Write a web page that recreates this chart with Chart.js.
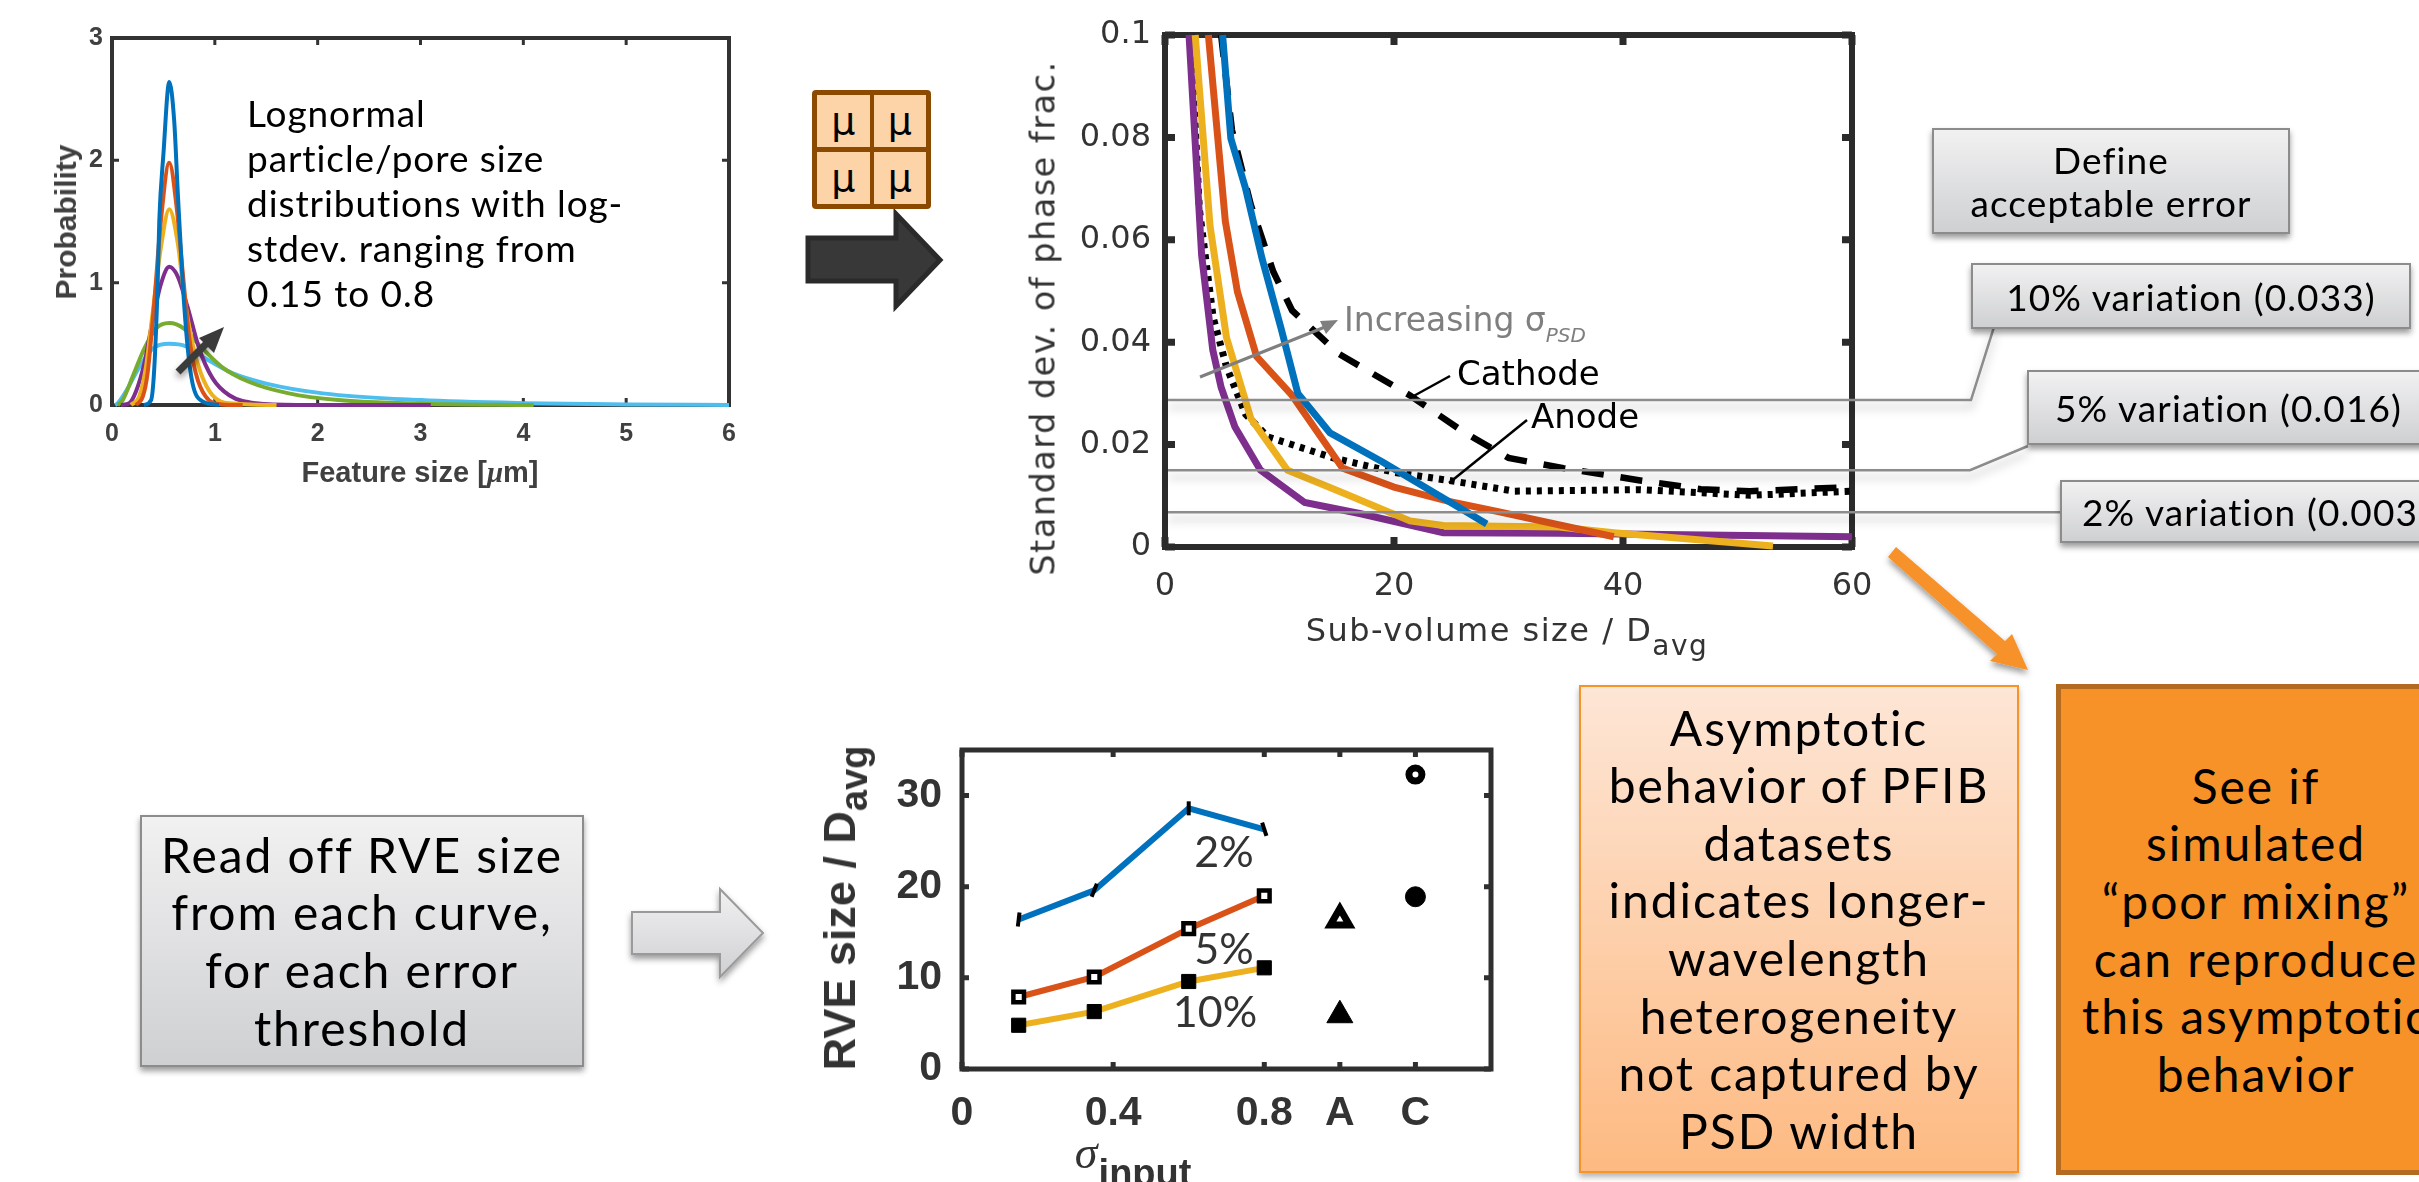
<!DOCTYPE html>
<html>
<head>
<meta charset="utf-8">
<title>RVE size workflow</title>
<script src="https://cdn.jsdelivr.net/npm/chart.js@4"></script>
<style>
html, body { margin: 0; width: 2419px; height: 1182px; overflow: hidden; background: #fff; }
canvas { position: absolute; }
#overlay { position: absolute; left: 0; top: 0; z-index: 1; }
.t { position: absolute; white-space: nowrap; z-index: 3; transform: translate(-50%, -50%); }
.gothic { font-family: Lato, sans-serif; font-weight: 400; color: #000; }
.box { position: absolute; box-sizing: border-box; z-index: 2; text-align: center; display: flex; align-items: center; justify-content: center; white-space: nowrap; }
.grey { background: linear-gradient(#f1f1f2, #cfd0d2); border: 2px solid #8c8c8c; box-shadow: 0 4px 6px rgba(0,0,0,.4); }
.dj { font-family: "DejaVu Sans", sans-serif; }
.ar { font-family: "Liberation Sans", sans-serif; font-weight: bold; }
.cell { background: #fdd3a8; font: 38px "DejaVu Sans"; line-height: 52px; }
</style>
</head>
<body>
<canvas id="psd" width="800" height="560" style="left:0px;top:-60px"></canvas>
<canvas id="std" width="900" height="720" style="left:1000px;top:-60px"></canvas>
<canvas id="rve" width="700" height="520" style="left:850px;top:680px"></canvas>
<svg id="overlay" width="2419" height="1182" xmlns="http://www.w3.org/2000/svg"></svg>

<!-- lognormal panel text -->
<div class="t" style="left:66px;top:222px;transform:translate(-50%,-50%) rotate(-90deg);font:bold 30px 'Liberation Sans';color:#404040">Probability</div>
<div class="t" style="left:420px;top:472px;font:bold 29px 'Liberation Sans';color:#404040">Feature size [<i style="font-family:'Liberation Serif'">μ</i>m]</div>
<div class="t gothic" style="left:247px;top:90px;transform:none;font-size:37px;line-height:45px;letter-spacing:.025em">Lognormal<br>particle/pore size<br>distributions with log-<br>stdev. ranging from<br>0.15 to 0.8</div>

<!-- mu block -->
<div class="box" style="left:812px;top:90px;width:119px;height:119px;background:#8b4a00;border-radius:4px;display:grid;grid-template-columns:1fr 1fr;gap:4px;padding:5px">
  <div class="cell">μ</div>
  <div class="cell">μ</div>
  <div class="cell">μ</div>
  <div class="cell">μ</div>
</div>

<!-- std dev panel text -->
<div class="t dj" style="left:1043px;top:318px;transform:translate(-50%,-50%) rotate(-90deg);font-size:33.5px;letter-spacing:1.5px;color:#333">Standard dev. of phase frac.</div>
<div class="t dj" style="left:1507px;top:636px;font-size:32px;letter-spacing:1.5px;color:#333">Sub-volume size / D<sub style="font-size:28px;vertical-align:-14px">avg</sub></div>
<div class="t dj" style="left:1344px;top:323px;transform:translate(0,-50%);font-size:33px;color:#7f7f7f">Increasing σ<i style="font-size:20px;vertical-align:-11px">PSD</i></div>
<div class="t dj" style="left:1457px;top:373px;transform:translate(0,-50%);font-size:34px;color:#000">Cathode</div>
<div class="t dj" style="left:1531px;top:416px;transform:translate(0,-50%);font-size:34px;color:#000">Anode</div>

<!-- error threshold boxes -->
<div class="box grey gothic" style="left:1932px;top:128px;width:358px;height:106px;font-size:37px;line-height:43px;letter-spacing:.03em">Define<br>acceptable error</div>
<div class="box grey gothic" style="left:1971px;top:263px;width:440px;height:66px;font-size:37px;letter-spacing:.03em">10% variation (0.033)</div>
<div class="box grey gothic" style="left:2027px;top:370px;width:420px;height:75px;font-size:37px;letter-spacing:.03em;justify-content:flex-start;padding-left:26px">5% variation (0.016)</div>
<div class="box grey gothic" style="left:2060px;top:480px;width:420px;height:63px;font-size:37px;letter-spacing:.03em;justify-content:flex-start;padding-left:20px">2% variation (0.003)</div>

<!-- bottom left -->
<div class="box grey gothic" style="left:140px;top:815px;width:444px;height:252px;font-size:48px;line-height:57.6px;letter-spacing:.04em">Read off RVE size<br>from each curve,<br>for each error<br>threshold</div>

<!-- RVE panel text -->
<div class="t ar" style="left:845px;top:908px;transform:translate(-50%,-50%) rotate(-90deg);font-size:45px;color:#333">RVE size / D<sub style="font-size:38px;vertical-align:-12px">avg</sub></div>
<div class="t" style="left:1086px;top:1152px;font:italic 46px 'Liberation Serif';color:#333">σ</div>
<div class="t ar" style="left:1145px;top:1173px;font-size:38px;color:#333">input</div>
<div class="t gothic" style="left:1224px;top:850px;font-size:43px;color:#333">2%</div>
<div class="t gothic" style="left:1224px;top:947px;font-size:43px;color:#333">5%</div>
<div class="t gothic" style="left:1215px;top:1010px;font-size:43px;color:#333">10%</div>

<!-- orange boxes -->
<div class="box gothic" style="left:1579px;top:685px;width:440px;height:488px;font-size:48px;line-height:57.6px;letter-spacing:.04em;background:linear-gradient(#fde6d6,#fdba82);border:2px solid #f79428;box-shadow:0 4px 6px rgba(0,0,0,.3)">Asymptotic<br>behavior of PFIB<br>datasets<br>indicates longer-<br>wavelength<br>heterogeneity<br>not captured by<br>PSD width</div>
<div class="box gothic" style="left:2056px;top:684px;width:400px;height:491px;font-size:48px;line-height:57.6px;letter-spacing:.04em;background:#f79229;border:5px solid #b36b22">See if<br>simulated<br>“poor mixing”<br>can reproduce<br>this asymptotic<br>behavior</div>

<script>
// Lognormal size distributions
const psdBlueX = [0.31, 0.38, 0.41, 0.443, 0.46, 0.50, 0.557, 0.605, 0.64, 0.686, 0.735, 0.783, 0.88, 1.04];
const psdBlueY = [0, 0.04, 0.285, 0.96, 1.51, 2.05, 2.64, 2.32, 1.73, 1.02, 0.475, 0.177, 0.03, 0];
const psdRedX = [0.233, 0.30, 0.346, 0.41, 0.476, 0.557, 0.628, 0.686, 0.75, 0.815, 0.91, 1.07, 1.27];
const psdRedY = [0, 0.07, 0.26, 0.83, 1.51, 1.98, 1.62, 1.1, 0.56, 0.26, 0.07, 0.005, 0];
const psdYellowX = [0.185, 0.265, 0.33, 0.395, 0.476, 0.557, 0.64, 0.70, 0.783, 0.864, 0.977, 1.14, 1.6];
const psdYellowY = [0, 0.07, 0.31, 0.75, 1.29, 1.6, 1.32, 0.91, 0.5, 0.26, 0.08, 0.014, 0];
const psdPurpleX = [0.087, 0.168, 0.233, 0.314, 0.395, 0.476, 0.557, 0.64, 0.735, 0.848, 0.977, 1.14, 1.4, 1.8, 3.1];
const psdPurpleY = [0, 0.014, 0.11, 0.34, 0.69, 0.99, 1.13, 1.05, 0.8, 0.46, 0.22, 0.08, 0.014, 0, 0];
const psdGreenX = [0.055, 0.104, 0.2, 0.314, 0.427, 0.557, 0.70, 0.848, 1.07, 1.33, 1.72, 2.2, 3, 4.1];
const psdGreenY = [0, 0.04, 0.23, 0.46, 0.625, 0.67, 0.625, 0.49, 0.31, 0.19, 0.095, 0.04, 0.01, 0];
const psdCyanX = [0.03, 0.055, 0.152, 0.265, 0.395, 0.557, 0.72, 0.91, 1.17, 1.5, 2.05, 3, 4, 5, 6];
const psdCyanY = [0, 0.014, 0.135, 0.31, 0.46, 0.5, 0.48, 0.38, 0.26, 0.175, 0.095, 0.04, 0.015, 0.005, 0];

// Std dev of phase fraction vs sub-volume size
const stdBlueX = [5.03, 5.75, 7.04, 8.48, 10.16, 11.6, 14.4, 19, 24.8, 28.1];
const stdBlueY = [0.1, 0.0798, 0.07, 0.0563, 0.0425, 0.03, 0.0223, 0.0166, 0.0089, 0.0045];
const stdRedX = [3.79, 5.27, 6.33, 8, 11.1, 15.5, 20, 24.8, 29.1, 39.2];
const stdRedY = [0.1, 0.0636, 0.0498, 0.0372, 0.0296, 0.0154, 0.0117, 0.0089, 0.0069, 0.002];
const stdYellowX = [2.64, 3.93, 5.37, 7.5, 10.7, 15.2, 21.4, 24.3, 34.4, 39.2, 53.1];
const stdYellowY = [0.1, 0.0628, 0.0409, 0.0251, 0.015, 0.0109, 0.0051, 0.0042, 0.0039, 0.0028, 0.0002];
const stdPurpleX = [2.1, 3.2, 4.17, 4.9, 6.1, 8.34, 12.2, 17.1, 24.3, 34.4, 60];
const stdPurpleY = [0.1, 0.057, 0.0385, 0.0312, 0.0235, 0.015, 0.0087, 0.0065, 0.0028, 0.0027, 0.002];
const cathodeX = [4.9, 5.85, 7.5, 9.45, 11.1, 15.2, 21.4, 26.2, 30, 34.8, 41.5, 46.8, 51.1, 60];
const cathodeY = [0.1, 0.0814, 0.0668, 0.0538, 0.0462, 0.0377, 0.0296, 0.0223, 0.0174, 0.0154, 0.013, 0.0113, 0.0109, 0.0117];
const anodeX = [2.25, 3, 4.2, 5.37, 7.04, 9, 14.7, 20, 24.8, 30.5, 41.5, 51.1, 60];
const anodeY = [0.1, 0.066, 0.0449, 0.0352, 0.0259, 0.0215, 0.0174, 0.0146, 0.013, 0.0109, 0.0112, 0.0101, 0.0109];
const thresholds = [0.0287, 0.015, 0.0068];

// RVE size panel
const sigmaInput = [0.15, 0.35, 0.6, 0.8];
const rve2pct = [16.4, 19.6, 28.6, 26.3];
const rve5pct = [7.9, 10.1, 15.4, 19.0];
const rve10pct = [4.8, 6.3, 9.6, 11.1];
const anodeSlot = 1.0;
const cathodeSlot = 1.2;
const anodeRve = [16.4, 5.9];
const cathodeRve = [32.3, 18.9];
const rveTickValues = [0, 0.4, 0.8, 1.0, 1.2];
const rveTickLabels = ['0', '0.4', '0.8', 'A', 'C'];
const rveYTicks = [0, 10, 20, 30];

const pts = (xs, ys) => xs.map((x, i) => ({ x, y: ys[i] }));

// box and inward ticks, matlab style
const framePlugin = {
    id: 'frame',
    beforeDatasetsDraw(chart, args, o) {
        const { ctx, chartArea: a, scales } = chart;
        ctx.save();
        ctx.strokeStyle = o.color;
        ctx.lineWidth = o.width;
        ctx.strokeRect(a.left, a.top, a.right - a.left, a.bottom - a.top);
        ctx.lineWidth = o.tickWidth;
        ctx.beginPath();
        scales.x.ticks.forEach(t => {
            const px = scales.x.getPixelForValue(t.value);
            ctx.moveTo(px, a.top); ctx.lineTo(px, a.top + o.tickLen);
            ctx.moveTo(px, a.bottom); ctx.lineTo(px, a.bottom - o.tickLen);
        });
        scales.y.ticks.forEach(t => {
            const py = scales.y.getPixelForValue(t.value);
            ctx.moveTo(a.left, py); ctx.lineTo(a.left + o.tickLen, py);
            ctx.moveTo(a.right, py); ctx.lineTo(a.right - o.tickLen, py);
        });
        ctx.stroke();
        ctx.restore();
    }
};

function line(xs, ys, color, width, extra) {
    return Object.assign({ data: pts(xs, ys), borderColor: color, borderWidth: width, pointRadius: 0, clip: false, fill: false }, extra || {});
}

function makeChart(id, datasets, xOpt, yOpt, frame) {
    return new Chart(document.getElementById(id), {
        type: 'line',
        data: { datasets },
        plugins: [framePlugin],
        options: {
            responsive: false,
            animation: false,
            layout: { padding: { left: 0, right: 0, top: 0, bottom: 0 } },
            plugins: { legend: { display: false }, tooltip: { enabled: false }, frame },
            scales: { x: xOpt, y: yOpt }
        }
    });
}

// moves the plot area to the wanted page rectangle
function pinPlot(chart, left, top, right, bottom) {
    const c = chart.canvas;
    const l = left - parseInt(c.style.left), t = top - parseInt(c.style.top);
    const r = right - parseInt(c.style.left), b = bottom - parseInt(c.style.top);
    for (let i = 0; i < 8; i++) {
        const a = chart.chartArea, p = chart.options.layout.padding;
        chart.options.layout.padding = {
            left: p.left + l - a.left, top: p.top + t - a.top,
            right: p.right + a.right - r, bottom: p.bottom + a.bottom - b
        };
        chart.update('none');
    }
}

const mono = { cubicInterpolationMode: 'monotone' };
const psdChart = makeChart('psd', [
    line(psdBlueX, psdBlueY, '#0072bd', 4, mono),
    line(psdRedX, psdRedY, '#d95319', 4, mono),
    line(psdYellowX, psdYellowY, '#edb120', 4, mono),
    line(psdPurpleX, psdPurpleY, '#7e2f8e', 4, mono),
    line(psdGreenX, psdGreenY, '#77ac30', 4, mono),
    line(psdCyanX, psdCyanY, '#4dbeee', 4, mono)
], {
    type: 'linear', min: 0, max: 6, grid: { display: false, drawTicks: false }, border: { display: false },
    ticks: { stepSize: 1, padding: 14, maxRotation: 0, color: '#404040', font: { family: 'Liberation Sans', weight: 'bold', size: 25 } }
}, {
    min: 0, max: 3, grid: { display: false, drawTicks: false }, border: { display: false },
    ticks: { stepSize: 1, padding: 9, color: '#404040', font: { family: 'Liberation Sans', weight: 'bold', size: 25 } }
}, { color: '#333', width: 4, tickWidth: 3, tickLen: 7 });
pinPlot(psdChart, 112, 38, 729, 405);

const stdChart = makeChart('std', [
    line(stdBlueX, stdBlueY, '#0072bd', 7),
    line(stdRedX, stdRedY, '#d95319', 7),
    line(stdYellowX, stdYellowY, '#edb120', 7),
    line(stdPurpleX, stdPurpleY, '#7e2f8e', 7),
    line(cathodeX, cathodeY, '#000', 6.5, { borderDash: [22, 17] }),
    line(anodeX, anodeY, '#000', 7, { borderDash: [5, 6] })
], {
    type: 'linear', min: 0, max: 60, grid: { display: false, drawTicks: false }, border: { display: false },
    ticks: { stepSize: 20, padding: 20, maxRotation: 0, color: '#333', font: { family: 'DejaVu Sans', size: 32 } }
}, {
    min: 0, max: 0.1, grid: { display: false, drawTicks: false }, border: { display: false },
    ticks: { stepSize: 0.02, padding: 14, color: '#333', font: { family: 'DejaVu Sans', size: 32 }, callback: v => String(+v.toFixed(2)) }
}, { color: '#2b2b2b', width: 6, tickWidth: 7, tickLen: 10 });
pinPlot(stdChart, 1165, 35, 1852, 547);

const rveChart = makeChart('rve', [
    line(sigmaInput, rve2pct, '#0072bd', 6, { pointStyle: 'line', pointRadius: 7, pointBorderColor: '#000', pointBorderWidth: 4, pointRotation: [97, 112, 90, 72] }),
    line(sigmaInput, rve5pct, '#d95319', 6, { pointStyle: 'rect', pointRadius: 7.5, pointBorderColor: '#000', pointBackgroundColor: '#fff', pointBorderWidth: 4.5 }),
    line(sigmaInput, rve10pct, '#edb120', 6, { pointStyle: 'rect', pointRadius: 10, pointBorderColor: '#000', pointBackgroundColor: '#000', pointBorderWidth: 1 }),
    { data: [{ x: anodeSlot, y: anodeRve[0] }], showLine: false, pointStyle: 'triangle', pointRadius: 11, pointBackgroundColor: '#fff', pointBorderColor: '#000', pointBorderWidth: 7 },
    { data: [{ x: anodeSlot, y: anodeRve[1] }], showLine: false, pointStyle: 'triangle', pointRadius: 15, pointBackgroundColor: '#000', pointBorderColor: '#000', pointBorderWidth: 1 },
    { data: [{ x: cathodeSlot, y: cathodeRve[0] }], showLine: false, pointStyle: 'circle', pointRadius: 6.5, pointBackgroundColor: '#fff', pointBorderColor: '#000', pointBorderWidth: 7 },
    { data: [{ x: cathodeSlot, y: cathodeRve[1] }], showLine: false, pointStyle: 'circle', pointRadius: 10, pointBackgroundColor: '#000', pointBorderColor: '#000', pointBorderWidth: 1 }
], {
    type: 'linear', min: 0, max: 1.4, grid: { display: false, drawTicks: false }, border: { display: false },
    afterBuildTicks: s => { s.ticks = rveTickValues.map(value => ({ value })); },
    ticks: { padding: 20, maxRotation: 0, autoSkip: false, color: '#333', font: { family: 'Liberation Sans', weight: 'bold', size: 41 },
        callback: v => rveTickLabels[rveTickValues.indexOf(v)] }
}, {
    min: 0, max: 35, grid: { display: false, drawTicks: false }, border: { display: false },
    afterBuildTicks: s => { s.ticks = rveYTicks.map(value => ({ value })); },
    ticks: { padding: 20, autoSkip: false, color: '#333', font: { family: 'Liberation Sans', weight: 'bold', size: 41 } }
}, { color: '#2f2f2f', width: 5, tickWidth: 5, tickLen: 7 });
pinPlot(rveChart, 962, 750, 1491, 1069);

// annotations on top of the charts: connectors, arrows, leaders
const stdTop = parseInt(stdChart.canvas.style.top);
const levelY = thresholds.map(v => stdTop + stdChart.scales.y.getPixelForValue(v));
const connectors = [
    `M1168,${levelY[0]} L1971,${levelY[0]} L1994,327`,
    `M1168,${levelY[1]} L1970,${levelY[1]} L2028,446`,
    `M1168,${levelY[2]} L2060,${levelY[2]}`
];
let svg = `<defs>
<filter id="sh" filterUnits="userSpaceOnUse" x="0" y="0" width="2419" height="1182"><feDropShadow dx="0" dy="7" stdDeviation="5" flood-color="#000" flood-opacity=".28"/></filter>
<filter id="sh2" filterUnits="userSpaceOnUse" x="0" y="0" width="2419" height="1182"><feDropShadow dx="0" dy="4" stdDeviation="3" flood-color="#000" flood-opacity=".4"/></filter>
<linearGradient id="gr" x1="0" y1="0" x2="0" y2="1"><stop offset="0" stop-color="#f1f1f2"/><stop offset="1" stop-color="#cfd0d2"/></linearGradient>
</defs>`;
connectors.forEach(d => { svg += `<path d="${d}" fill="none" stroke="#8c8c8c" stroke-width="2.5" filter="url(#sh)"/>`; });
// dark arrow under the mu block
svg += `<path d="M808,238 L896,238 L896,214 L940,260 L896,306 L896,281 L808,281 Z" fill="#383838" stroke="#2a2a2a" stroke-width="5"/>`;
// grey arrow bottom left
svg += `<path d="M632,912 L720,912 L720,889 L763,933 L720,977 L720,954 L632,954 Z" fill="url(#gr)" stroke="#9a9a9a" stroke-width="2" filter="url(#sh2)"/>`;
// orange arrow
svg += `<path d="M1896,547 L2005,641 L2012,634 L2028,670 L1990,661 L1997,654 L1888,557 Z" fill="#f7922b" filter="url(#sh2)"/>`;
// psd panel arrow
svg += `<path d="M178,372 L212,338" stroke="#3a3a3a" stroke-width="7" filter="url(#sh2)"/><path d="M224,327 L214,353 L199,338 Z" fill="#3a3a3a"/>`;
// increasing sigma arrow
svg += `<path d="M1200,377 L1325,327" stroke="#7f7f7f" stroke-width="3"/><path d="M1338,320 L1320,321 L1326,334 Z" fill="#7f7f7f"/>`;
// leaders
svg += `<path d="M1450,376 L1410,398" stroke="#000" stroke-width="2.5"/><path d="M1527,420 L1449,483" stroke="#000" stroke-width="2.5"/>`;
document.getElementById('overlay').innerHTML = svg;
</script>
</body>
</html>
